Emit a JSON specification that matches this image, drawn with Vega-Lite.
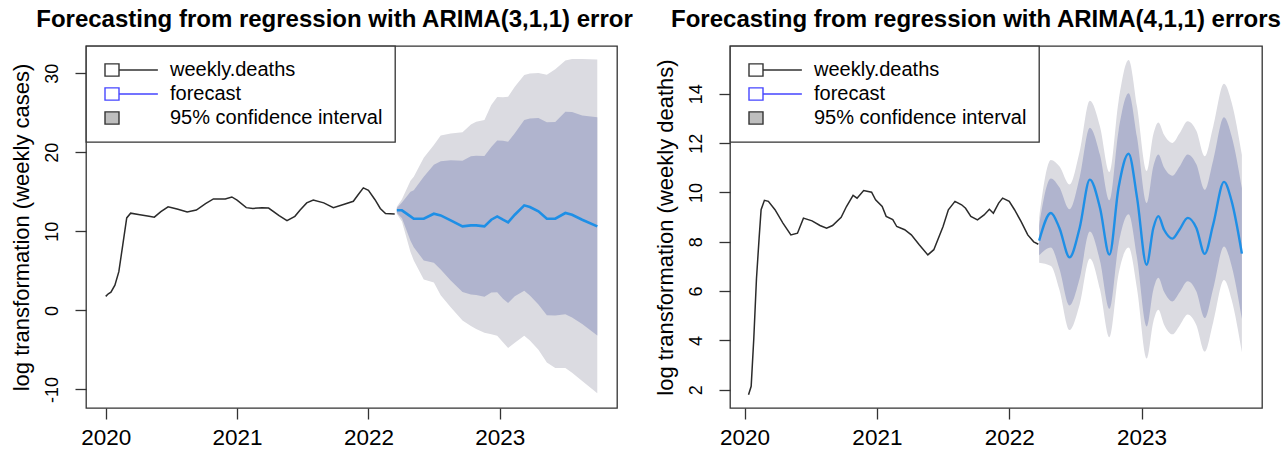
{
  "$schema": "https://vega.github.io/schema/vega-lite/v6.json",
  "padding": {"left": 9, "top": 7, "right": 5, "bottom": 5},
  "bounds": "flush",
  "spacing": 113,
  "datasets": {
    "hist1": [
      {"t": 2020.0, "v": 1.77}, {"t": 2020.02, "v": 2.1}, {"t": 2020.04, "v": 2.3}, {"t": 2020.07, "v": 3.2},
      {"t": 2020.1, "v": 4.9}, {"t": 2020.13, "v": 8.3}, {"t": 2020.16, "v": 11.7}, {"t": 2020.19, "v": 12.3},
      {"t": 2020.26, "v": 12.1}, {"t": 2020.33, "v": 11.9}, {"t": 2020.37, "v": 11.8}, {"t": 2020.42, "v": 12.5},
      {"t": 2020.475, "v": 13.1}, {"t": 2020.55, "v": 12.8}, {"t": 2020.62, "v": 12.45}, {"t": 2020.69, "v": 12.7},
      {"t": 2020.76, "v": 13.5}, {"t": 2020.82, "v": 14.1}, {"t": 2020.91, "v": 14.1}, {"t": 2020.96, "v": 14.35},
      {"t": 2021.0, "v": 13.95}, {"t": 2021.07, "v": 13.0}, {"t": 2021.12, "v": 12.9}, {"t": 2021.19, "v": 13.0},
      {"t": 2021.24, "v": 12.95}, {"t": 2021.32, "v": 12.0}, {"t": 2021.38, "v": 11.35}, {"t": 2021.44, "v": 11.9},
      {"t": 2021.48, "v": 12.7}, {"t": 2021.53, "v": 13.6}, {"t": 2021.58, "v": 13.95}, {"t": 2021.66, "v": 13.6},
      {"t": 2021.733, "v": 13.0}, {"t": 2021.81, "v": 13.4}, {"t": 2021.885, "v": 13.8}, {"t": 2021.92, "v": 14.6},
      {"t": 2021.961, "v": 15.5}, {"t": 2022.0, "v": 15.2}, {"t": 2022.05, "v": 14.0}, {"t": 2022.09, "v": 12.9},
      {"t": 2022.13, "v": 12.25}, {"t": 2022.2, "v": 12.2}
    ],
    "fc1": [
      {"t": 2022.216, "f": 12.66, "lo80": 12.36, "hi80": 12.96, "lo95": 12.21, "hi95": 13.11},
      {"t": 2022.255, "f": 12.66, "lo80": 11.66, "hi80": 13.66, "lo95": 11.26, "hi95": 14.06},
      {"t": 2022.32, "f": 11.9, "lo80": 8.8, "hi80": 15.0, "lo95": 7.4, "hi95": 16.4},
      {"t": 2022.345, "f": 11.6, "lo80": 8.0, "hi80": 15.2, "lo95": 6.3, "hi95": 16.9},
      {"t": 2022.421, "f": 11.6, "lo80": 6.3, "hi80": 16.9, "lo95": 3.9, "hi95": 19.3},
      {"t": 2022.498, "f": 12.23, "lo80": 6.03, "hi80": 18.43, "lo95": 3.53, "hi95": 20.93},
      {"t": 2022.55, "f": 12.02, "lo80": 5.17, "hi80": 18.87, "lo95": 1.92, "hi95": 22.12},
      {"t": 2022.626, "f": 11.39, "lo80": 3.79, "hi80": 18.99, "lo95": 0.39, "hi95": 22.39},
      {"t": 2022.716, "f": 10.63, "lo80": 2.33, "hi80": 18.93, "lo95": -1.27, "hi95": 22.53},
      {"t": 2022.78, "f": 10.76, "lo80": 2.01, "hi80": 19.51, "lo95": -1.99, "hi95": 23.51},
      {"t": 2022.82, "f": 10.76, "lo80": 1.96, "hi80": 19.56, "lo95": -2.34, "hi95": 23.86},
      {"t": 2022.883, "f": 10.63, "lo80": 1.73, "hi80": 19.53, "lo95": -2.82, "hi95": 24.08},
      {"t": 2022.935, "f": 11.47, "lo80": 2.27, "hi80": 20.67, "lo95": -3.03, "hi95": 25.97},
      {"t": 2022.98, "f": 11.89, "lo80": 2.29, "hi80": 21.49, "lo95": -3.21, "hi95": 26.99},
      {"t": 2023.024, "f": 11.47, "lo80": 1.47, "hi80": 21.47, "lo95": -4.03, "hi95": 26.97},
      {"t": 2023.063, "f": 11.14, "lo80": 0.94, "hi80": 21.34, "lo95": -4.76, "hi95": 27.04},
      {"t": 2023.114, "f": 12.1, "lo80": 1.8, "hi80": 22.4, "lo95": -4.1, "hi95": 28.3},
      {"t": 2023.186, "f": 13.29, "lo80": 2.49, "hi80": 24.09, "lo95": -3.21, "hi95": 29.79},
      {"t": 2023.229, "f": 13.08, "lo80": 1.88, "hi80": 24.28, "lo95": -3.82, "hi95": 29.98},
      {"t": 2023.294, "f": 12.53, "lo80": 0.73, "hi80": 24.33, "lo95": -4.97, "hi95": 30.03},
      {"t": 2023.358, "f": 11.6, "lo80": -0.6, "hi80": 23.8, "lo95": -6.6, "hi95": 29.8},
      {"t": 2023.422, "f": 11.6, "lo80": -0.65, "hi80": 23.85, "lo95": -7.3, "hi95": 30.5},
      {"t": 2023.499, "f": 12.32, "lo80": -0.48, "hi80": 25.12, "lo95": -7.28, "hi95": 31.6},
      {"t": 2023.55, "f": 12.1, "lo80": -0.9, "hi80": 25.1, "lo95": -7.9, "hi95": 31.8},
      {"t": 2023.627, "f": 11.47, "lo80": -1.73, "hi80": 24.67, "lo95": -8.93, "hi95": 31.8},
      {"t": 2023.742, "f": 10.63, "lo80": -3.17, "hi80": 24.43, "lo95": -10.47, "hi95": 31.73}
    ],
    "hist2": [
      {"t": 2020.03, "v": 1.8}, {"t": 2020.05, "v": 2.14}, {"t": 2020.07, "v": 4.1}, {"t": 2020.09, "v": 6.5},
      {"t": 2020.11, "v": 8.15}, {"t": 2020.125, "v": 9.3}, {"t": 2020.15, "v": 9.68}, {"t": 2020.18, "v": 9.64},
      {"t": 2020.23, "v": 9.3}, {"t": 2020.29, "v": 8.76}, {"t": 2020.35, "v": 8.28}, {"t": 2020.4, "v": 8.35},
      {"t": 2020.445, "v": 8.96}, {"t": 2020.51, "v": 8.85}, {"t": 2020.57, "v": 8.66}, {"t": 2020.62, "v": 8.55},
      {"t": 2020.665, "v": 8.66}, {"t": 2020.73, "v": 8.99}, {"t": 2020.77, "v": 9.43}, {"t": 2020.82, "v": 9.88},
      {"t": 2020.85, "v": 9.77}, {"t": 2020.9, "v": 10.08}, {"t": 2020.96, "v": 10.01}, {"t": 2020.99, "v": 9.7},
      {"t": 2021.04, "v": 9.43}, {"t": 2021.07, "v": 9.03}, {"t": 2021.12, "v": 8.9}, {"t": 2021.15, "v": 8.62},
      {"t": 2021.21, "v": 8.49}, {"t": 2021.26, "v": 8.28}, {"t": 2021.32, "v": 7.88}, {"t": 2021.385, "v": 7.47},
      {"t": 2021.43, "v": 7.68}, {"t": 2021.5, "v": 8.62}, {"t": 2021.54, "v": 9.3}, {"t": 2021.59, "v": 9.64},
      {"t": 2021.64, "v": 9.5}, {"t": 2021.67, "v": 9.36}, {"t": 2021.71, "v": 9.03}, {"t": 2021.76, "v": 8.89},
      {"t": 2021.81, "v": 9.09}, {"t": 2021.85, "v": 9.32}, {"t": 2021.88, "v": 9.16}, {"t": 2021.92, "v": 9.57},
      {"t": 2021.95, "v": 9.77}, {"t": 2022.0, "v": 9.64}, {"t": 2022.04, "v": 9.3}, {"t": 2022.09, "v": 8.82},
      {"t": 2022.14, "v": 8.28}, {"t": 2022.185, "v": 8.0}, {"t": 2022.22, "v": 7.9}
    ],
    "fc2": [
      {"t": 2022.226, "f": 8.05, "lo80": 7.45, "hi80": 8.65, "lo95": 7.15, "hi95": 8.95},
      {"t": 2022.315, "f": 9.17, "lo80": 7.77, "hi80": 10.57, "lo95": 7.02, "hi95": 11.32},
      {"t": 2022.379, "f": 8.56, "lo80": 6.91, "hi80": 10.21, "lo95": 6.06, "hi95": 11.06},
      {"t": 2022.456, "f": 7.37, "lo80": 5.42, "hi80": 9.32, "lo95": 4.42, "hi95": 10.32},
      {"t": 2022.532, "f": 8.56, "lo80": 6.51, "hi80": 10.61, "lo95": 5.46, "hi95": 11.66},
      {"t": 2022.609, "f": 10.52, "lo80": 8.42, "hi80": 12.62, "lo95": 7.32, "hi95": 13.72},
      {"t": 2022.686, "f": 9.37, "lo80": 7.22, "hi80": 11.52, "lo95": 6.07, "hi95": 12.67},
      {"t": 2022.757, "f": 7.48, "lo80": 5.28, "hi80": 9.68, "lo95": 4.13, "hi95": 10.83},
      {"t": 2022.826, "f": 10.19, "lo80": 7.89, "hi80": 12.49, "lo95": 6.69, "hi95": 13.69},
      {"t": 2022.902, "f": 11.57, "lo80": 9.12, "hi80": 14.02, "lo95": 7.77, "hi95": 15.37},
      {"t": 2022.966, "f": 9.78, "lo80": 7.33, "hi80": 12.23, "lo95": 6.08, "hi95": 13.48},
      {"t": 2023.038, "f": 7.07, "lo80": 4.57, "hi80": 9.57, "lo95": 3.27, "hi95": 10.87},
      {"t": 2023.089, "f": 8.56, "lo80": 6.06, "hi80": 11.06, "lo95": 4.76, "hi95": 12.36},
      {"t": 2023.127, "f": 9.04, "lo80": 6.54, "hi80": 11.54, "lo95": 5.24, "hi95": 12.84},
      {"t": 2023.17, "f": 8.49, "lo80": 5.97, "hi80": 11.01, "lo95": 4.64, "hi95": 12.34},
      {"t": 2023.234, "f": 8.13, "lo80": 5.58, "hi80": 10.68, "lo95": 4.25, "hi95": 12.01},
      {"t": 2023.286, "f": 8.49, "lo80": 5.94, "hi80": 11.04, "lo95": 4.59, "hi95": 12.39},
      {"t": 2023.349, "f": 8.97, "lo80": 6.4, "hi80": 11.54, "lo95": 5.05, "hi95": 12.89},
      {"t": 2023.414, "f": 8.56, "lo80": 5.98, "hi80": 11.14, "lo95": 4.62, "hi95": 12.5},
      {"t": 2023.477, "f": 7.51, "lo80": 4.91, "hi80": 10.11, "lo95": 3.55, "hi95": 11.47},
      {"t": 2023.541, "f": 8.7, "lo80": 6.1, "hi80": 11.3, "lo95": 4.73, "hi95": 12.67},
      {"t": 2023.623, "f": 10.43, "lo80": 7.81, "hi80": 13.05, "lo95": 6.45, "hi95": 14.41},
      {"t": 2023.681, "f": 9.64, "lo80": 7.01, "hi80": 12.27, "lo95": 5.64, "hi95": 13.64},
      {"t": 2023.758, "f": 7.52, "lo80": 4.87, "hi80": 10.17, "lo95": 3.52, "hi95": 11.52}
    ],
    "legend": [
      {"series": "weekly.deaths"},
      {"series": "forecast"},
      {"series": "95% confidence interval"}
    ]
  },
  "hconcat": [
    {
      "width": 531,
      "height": 362,
      "title": {"text": "Forecasting from regression with ARIMA(3,1,1) error", "dx": -17},
      "layer": [
        {
          "data": {"name": "fc1"},
          "mark": {"type": "area", "color": "#DBDBE1"},
          "encoding": {
            "x": {"field": "t", "type": "quantitative", "scale": {"domain": [2019.85, 2023.892], "nice": false, "zero": false},
                  "axis": {"values": [2020, 2021, 2022, 2023], "format": "d", "title": null}},
            "y": {"field": "lo95", "type": "quantitative", "scale": {"domain": [-12.35, 33.45], "nice": false, "zero": false},
                  "axis": {"values": [-10, 0, 10, 20, 30], "labelExpr": "'' + datum.value", "title": "log transformation (weekly cases)"}},
            "y2": {"field": "hi95"}
          }
        },
        {
          "data": {"name": "fc1"},
          "mark": {"type": "area", "color": "#B0B4CE"},
          "encoding": {
            "x": {"field": "t", "type": "quantitative"},
            "y": {"field": "lo80", "type": "quantitative"},
            "y2": {"field": "hi80"}
          }
        },
        {
          "data": {"name": "hist1"},
          "mark": {"type": "line", "color": "#2b2b2b", "strokeWidth": 1.5},
          "encoding": {
            "x": {"field": "t", "type": "quantitative"},
            "y": {"field": "v", "type": "quantitative"}
          }
        },
        {
          "data": {"name": "fc1"},
          "mark": {"type": "line", "color": "#1E8FE6", "strokeWidth": 2.6},
          "encoding": {
            "x": {"field": "t", "type": "quantitative"},
            "y": {"field": "f", "type": "quantitative"}
          }
        },
        {
          "data": {"name": "legend"},
          "mark": {"type": "point", "filled": true, "opacity": 0, "size": 4096},
          "encoding": {
            "shape": {"field": "series", "type": "nominal",
              "scale": {"domain": ["weekly.deaths", "forecast", "95% confidence interval"],
                        "range": ["M-0.8125,-0.19H-0.375V0.19H-0.8125Z M-0.375,0H0.84", "M-0.8125,-0.19H-0.375V0.19H-0.8125Z M-0.375,0H0.84", "M-0.8125,-0.19H-0.375V0.19H-0.8125Z"]},
              "legend": {"title": null}},
            "fill": {"field": "series", "type": "nominal",
              "scale": {"domain": ["weekly.deaths", "forecast", "95% confidence interval"], "range": ["#ffffff", "#ffffff", "#bebebe"]},
              "legend": {"title": null}},
            "stroke": {"field": "series", "type": "nominal",
              "scale": {"domain": ["weekly.deaths", "forecast", "95% confidence interval"], "range": ["#333333", "#4646ff", "#333333"]},
              "legend": {"title": null}}
          }
        }
      ]
    },
    {
      "width": 532,
      "height": 362,
      "title": {"text": "Forecasting from regression with ARIMA(4,1,1) errors", "dx": -20},
      "layer": [
        {
          "data": {"name": "fc2"},
          "mark": {"type": "area", "color": "#DBDBE1", "interpolate": "monotone"},
          "encoding": {
            "x": {"field": "t", "type": "quantitative", "scale": {"domain": [2019.89, 2023.91], "nice": false, "zero": false},
                  "axis": {"values": [2020, 2021, 2022, 2023], "format": "d", "title": null}},
            "y": {"field": "lo95", "type": "quantitative", "scale": {"domain": [1.26, 15.94], "nice": false, "zero": false},
                  "axis": {"values": [2, 4, 6, 8, 10, 12, 14], "title": "log transformation (weekly deaths)"}},
            "y2": {"field": "hi95"}
          }
        },
        {
          "data": {"name": "fc2"},
          "mark": {"type": "area", "color": "#B0B4CE", "interpolate": "monotone"},
          "encoding": {
            "x": {"field": "t", "type": "quantitative"},
            "y": {"field": "lo80", "type": "quantitative"},
            "y2": {"field": "hi80"}
          }
        },
        {
          "data": {"name": "hist2"},
          "mark": {"type": "line", "color": "#2b2b2b", "strokeWidth": 1.5},
          "encoding": {
            "x": {"field": "t", "type": "quantitative"},
            "y": {"field": "v", "type": "quantitative"}
          }
        },
        {
          "data": {"name": "fc2"},
          "mark": {"type": "line", "color": "#1E8FE6", "strokeWidth": 2.4, "interpolate": "monotone"},
          "encoding": {
            "x": {"field": "t", "type": "quantitative"},
            "y": {"field": "f", "type": "quantitative"}
          }
        },
        {
          "data": {"name": "legend"},
          "mark": {"type": "point", "filled": true, "opacity": 0, "size": 4096},
          "encoding": {
            "shape": {"field": "series", "type": "nominal",
              "scale": {"domain": ["weekly.deaths", "forecast", "95% confidence interval"],
                        "range": ["M-0.8125,-0.19H-0.375V0.19H-0.8125Z M-0.375,0H0.84", "M-0.8125,-0.19H-0.375V0.19H-0.8125Z M-0.375,0H0.84", "M-0.8125,-0.19H-0.375V0.19H-0.8125Z"]},
              "legend": {"title": null}},
            "fill": {"field": "series", "type": "nominal",
              "scale": {"domain": ["weekly.deaths", "forecast", "95% confidence interval"], "range": ["#ffffff", "#ffffff", "#bebebe"]},
              "legend": {"title": null}},
            "stroke": {"field": "series", "type": "nominal",
              "scale": {"domain": ["weekly.deaths", "forecast", "95% confidence interval"], "range": ["#333333", "#4646ff", "#333333"]},
              "legend": {"title": null}}
          }
        }
      ]
    }
  ],
  "resolve": {
    "scale": {"shape": "independent", "fill": "independent", "stroke": "independent"},
    "legend": {"shape": "independent", "fill": "independent", "stroke": "independent"}
  },
  "config": {
    "font": "Liberation Sans",
    "view": {"stroke": "#333333", "strokeWidth": 1.3},
    "axis": {
      "grid": false, "domain": false, "tickSize": 11, "tickColor": "#333333", "tickWidth": 1.3,
      "labelFont": "Liberation Sans", "labelColor": "#000000",
      "titleFont": "Liberation Sans", "titleFontSize": 22, "titleFontWeight": "normal", "titleColor": "#000000"
    },
    "axisX": {"labelPadding": 7, "labelFontSize": 22.5},
    "axisY": {"labelAngle": -90, "labelPadding": 14, "labelFontSize": 18, "titlePadding": 10},
    "title": {"font": "Liberation Sans", "fontSize": 24, "fontWeight": "bold", "color": "#000000", "anchor": "middle", "baseline": "alphabetic", "offset": 13},
    "legend": {
      "orient": "top-left", "offset": 0, "padding": 12, "fillColor": "#ffffff", "strokeColor": "#333333", "strokeWidth": 1.3,
      "labelFont": "Liberation Sans", "labelFontSize": 20, "labelColor": "#000000", "labelLimit": 400, "labelOffset": 6,
      "symbolSize": 4096, "symbolStrokeWidth": 1.4, "symbolOpacity": 1, "rowPadding": 0, "clipHeight": 24, "cornerRadius": 0
    }
  }
}
